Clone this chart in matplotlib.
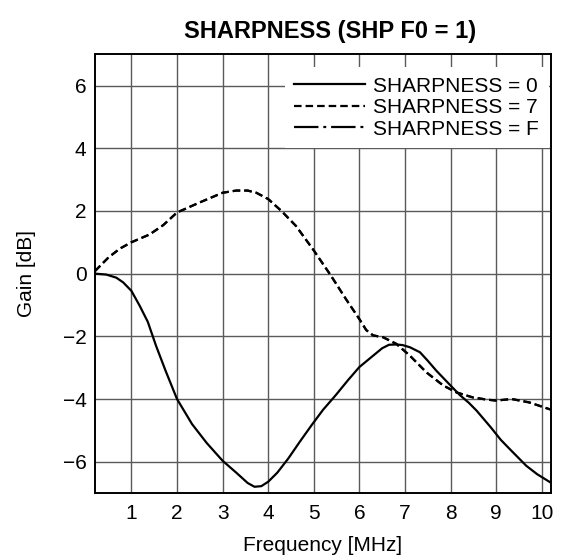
import matplotlib
matplotlib.use("Agg")
import matplotlib.pyplot as plt
from matplotlib.lines import Line2D

plt.rcParams["font.family"] = ["Liberation Sans", "DejaVu Sans"]

# Gain response curves, frequency in MHz, gain in dB
freq_0 = [0.2, 0.45, 0.67, 0.82, 1.0, 1.18, 1.36, 1.54, 1.75, 2.0, 2.33,
          2.65, 3.0, 3.3, 3.55, 3.7, 3.85, 4.0, 4.2, 4.44, 4.7, 4.95, 5.2,
          5.48, 5.75, 6.0, 6.3, 6.5, 6.65, 6.81, 6.95, 7.11, 7.33, 7.5, 7.69,
          8.0, 8.2, 8.4, 8.57, 8.88, 9.1, 9.3, 9.66, 9.9, 10.2]
gain_0 = [0.0, -0.03, -0.13, -0.28, -0.55, -1.02, -1.54, -2.3, -3.1, -4.0,
          -4.8, -5.4, -5.97, -6.35, -6.68, -6.8, -6.78, -6.64, -6.35, -5.9,
          -5.35, -4.84, -4.35, -3.88, -3.4, -2.98, -2.62, -2.38, -2.27, -2.26,
          -2.28, -2.35, -2.51, -2.78, -3.1, -3.57, -3.87, -4.12, -4.37, -4.9,
          -5.3, -5.6, -6.13, -6.4, -6.67]

freq_7 = [0.2, 0.35, 0.5, 0.75, 1.0, 1.4, 1.7, 2.0, 2.48, 3.0, 3.3, 3.55,
          3.74, 4.0, 4.29, 4.61, 5.0, 5.37, 5.7, 6.0, 6.15, 6.3, 6.52, 6.81,
          7.11, 7.47, 7.84, 8.13, 8.49, 8.8, 9.0, 9.34, 9.73, 10.2]
gain_7 = [0.08, 0.3, 0.52, 0.8, 1.0, 1.25, 1.55, 1.95, 2.26, 2.58, 2.65,
          2.65, 2.58, 2.38, 2.0, 1.52, 0.74, -0.05, -0.8, -1.45, -1.8, -1.97,
          -2.03, -2.24, -2.62, -3.15, -3.57, -3.79, -3.95, -4.02, -4.05, -4.0,
          -4.11, -4.34]

# SHARPNESS = F runs on top of the SHARPNESS = 7 response
freq_f = list(freq_7)
gain_f = list(gain_7)

labels = ["SHARPNESS = 0", "SHARPNESS = 7", "SHARPNESS = F"]
x_ticks = [1, 2, 3, 4, 5, 6, 7, 8, 9, 10]
y_ticks = [-6, -4, -2, 0, 2, 4, 6]

dash_7 = (0, (3.4, 1.8))
dash_f = (0, (11.0, 2.2, 1.3, 2.2))

fig = plt.figure(figsize=(5.65, 5.59), dpi=100)
ax = fig.add_axes([0.168, 0.118, 0.975 - 0.168, 0.903 - 0.118])

lw = 1.6
ax.plot(freq_0, gain_0, color="black", lw=lw, ls="-", zorder=3,
        solid_joinstyle="round")
ax.plot(freq_f, gain_f, color="black", lw=lw, ls=dash_7, zorder=3)
ax.plot(freq_7, gain_7, color="black", lw=lw, ls=dash_7, zorder=3)

ax.set_xlim(0.2, 10.2)
ax.set_ylim(-7, 7)
ax.set_xticks(x_ticks)
ax.set_yticks(y_ticks)
ax.tick_params(length=0, labelsize=15, pad=6)
ax.tick_params(axis="x", pad=8)
ax.grid(True, color="#5a5a5a", lw=1.0)
ax.set_axisbelow(True)
for s in ax.spines.values():
    s.set_linewidth(1.4)
    s.set_color("black")

ax.set_xlabel("Frequency [MHz]", fontsize=15, labelpad=9)
ax.set_ylabel("Gain [dB]", fontsize=15, labelpad=19)
ax.set_title("SHARPNESS (SHP F0 = 1)", fontsize=17, fontweight="bold", pad=12,
             x=0.515)

handles = [
    Line2D([], [], color="black", lw=lw, ls="-"),
    Line2D([], [], color="black", lw=lw, ls=dash_7),
    Line2D([], [], color="black", lw=lw, ls=dash_f),
]
leg = ax.legend(handles, labels, loc="upper right", bbox_to_anchor=(0.995, 0.97),
                fontsize=15, frameon=True, fancybox=False, framealpha=1,
                facecolor="white", edgecolor="none", handlelength=3.4,
                handletextpad=0.4, labelspacing=0.12, borderpad=0.45,
                borderaxespad=0.0)
leg.set_zorder(5)

fig.savefig("out.png", dpi=100)
